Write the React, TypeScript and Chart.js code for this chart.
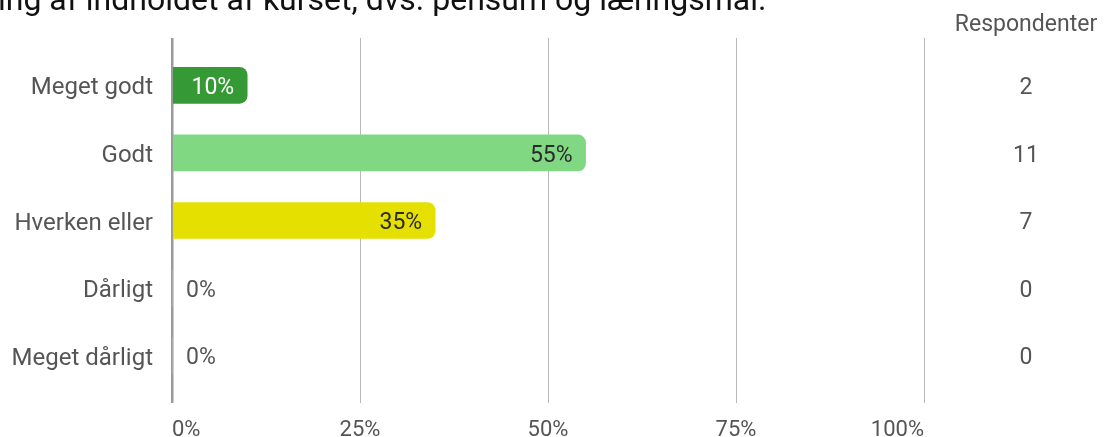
import React, { useEffect, useRef } from "react";
import { Chart, registerables } from "chart.js";

Chart.register(...registerables);

const categories = ["Meget godt", "Godt", "Hverken eller", "Dårligt", "Meget dårligt"];
const percentages = [10, 55, 35, 0, 0];
const respondents = [2, 11, 7, 0, 0];
const barColors = ["#359a35", "#80d883", "#e6e000", "#cccccc", "#cccccc"];
const valueLabelColors = ["#ffffff", "#2b2b2b", "#2b2b2b", "#555555", "#555555"];
const xTickValues = [0, 25, 50, 75, 100];
const titleText = "ing af indholdet af kurset, dvs. pensum og læringsmål.";
const columnHeader = "Respondenter";

const FONT = "Roboto, 'Noto Sans', sans-serif";
const GRAY = "#555555";

const overlayPlugin = {
  id: "overlay",
  afterDatasetsDraw(chart: any) {
    const ctx = chart.ctx;
    const meta = chart.getDatasetMeta(0);
    const yScale = chart.scales.y;
    ctx.save();
    ctx.font = `23px ${FONT}`;
    ctx.textBaseline = "middle";
    meta.data.forEach((bar: any, i: number) => {
      const v = percentages[i];
      const text = `${v}%`;
      if (v > 0) {
        ctx.textAlign = "right";
        ctx.fillStyle = valueLabelColors[i];
        ctx.fillText(text, bar.x - 13, bar.y + 3);
      } else {
        ctx.textAlign = "left";
        ctx.fillStyle = valueLabelColors[i];
        ctx.fillText(text, bar.base + 14, bar.y + 3);
      }
    });
    ctx.fillStyle = GRAY;
    ctx.textAlign = "center";
    const colX = chart.chartArea.right + 102;
    respondents.forEach((r, i) => {
      ctx.fillText(String(r), colX, yScale.getPixelForValue(i) + 3);
    });
    ctx.font = `23px ${FONT}`;
    ctx.fillText(columnHeader, colX, 25);
    ctx.font = `32px ${FONT}`;
    ctx.fillStyle = "#111111";
    ctx.textAlign = "left";
    ctx.textBaseline = "alphabetic";
    ctx.fillText(titleText, -2, 10);
    ctx.restore();
  },
};

export default function App() {
  const canvasRef = useRef<HTMLCanvasElement | null>(null);

  useEffect(() => {
    if (!canvasRef.current) return;
    const chart = new Chart(canvasRef.current, {
      type: "bar",
      data: {
        labels: categories,
        datasets: [
          {
            data: percentages.map((p, i) => ({ x: p, y: i })) as any,
            backgroundColor: barColors,
            borderRadius: 8,
            borderSkipped: "start",
            barThickness: 36,
          },
        ],
      },
      options: {
        indexAxis: "y",
        responsive: false,
        animation: false,
        layout: { padding: { top: 38, right: 180, left: 0, bottom: 0 } },
        plugins: {
          legend: { display: false },
          tooltip: { enabled: false },
          title: { display: false },
        },
        scales: {
          x: {
            type: "linear",
            min: 0,
            max: 100,
            afterBuildTicks: (scale: any) => {
              scale.ticks = xTickValues.map((v) => ({ value: v }));
            },
            afterFit: (scale: any) => {
              scale.height = 34;
            },
            ticks: {
              align: "inner",
              padding: 14,
              color: GRAY,
              font: { family: FONT, size: 22 },
              callback: (v: any) => `${v}%`,
              maxRotation: 0,
            },
            grid: {
              drawTicks: false,
              color: (c: any) => (c.tick && c.tick.value === 0 ? "#9a9a9a" : "#b8b8b8"),
              lineWidth: (c: any) => (c.tick && c.tick.value === 0 ? 2.5 : 1),
            },
            border: { display: false },
          },
          y: {
            type: "linear",
            reverse: true,
            min: -0.7,
            max: 4.7,
            offset: false,
            afterBuildTicks: (scale: any) => {
              scale.ticks = categories.map((_, i) => ({ value: i }));
            },
            afterFit: (scale: any) => {
              scale.width = 172;
            },
            ticks: {
              padding: 19,
              color: GRAY,
              font: { family: FONT, size: 24, lineHeight: 0.25 },
              callback: (v: any) => ["", categories[v as number] ?? ""],
            },
            grid: { display: false, drawTicks: false, offset: false },
            border: { display: false },
          },
        },
      } as any,
      plugins: [overlayPlugin],
    });
    return () => chart.destroy();
  }, []);

  return (
    <div style={{ position: "absolute", left: 0, top: 0, width: 1104, height: 437, overflow: "hidden", background: "#fff" }}>
      <canvas ref={canvasRef} width={1104} height={437} style={{ display: "block" }} />
    </div>
  );
}
